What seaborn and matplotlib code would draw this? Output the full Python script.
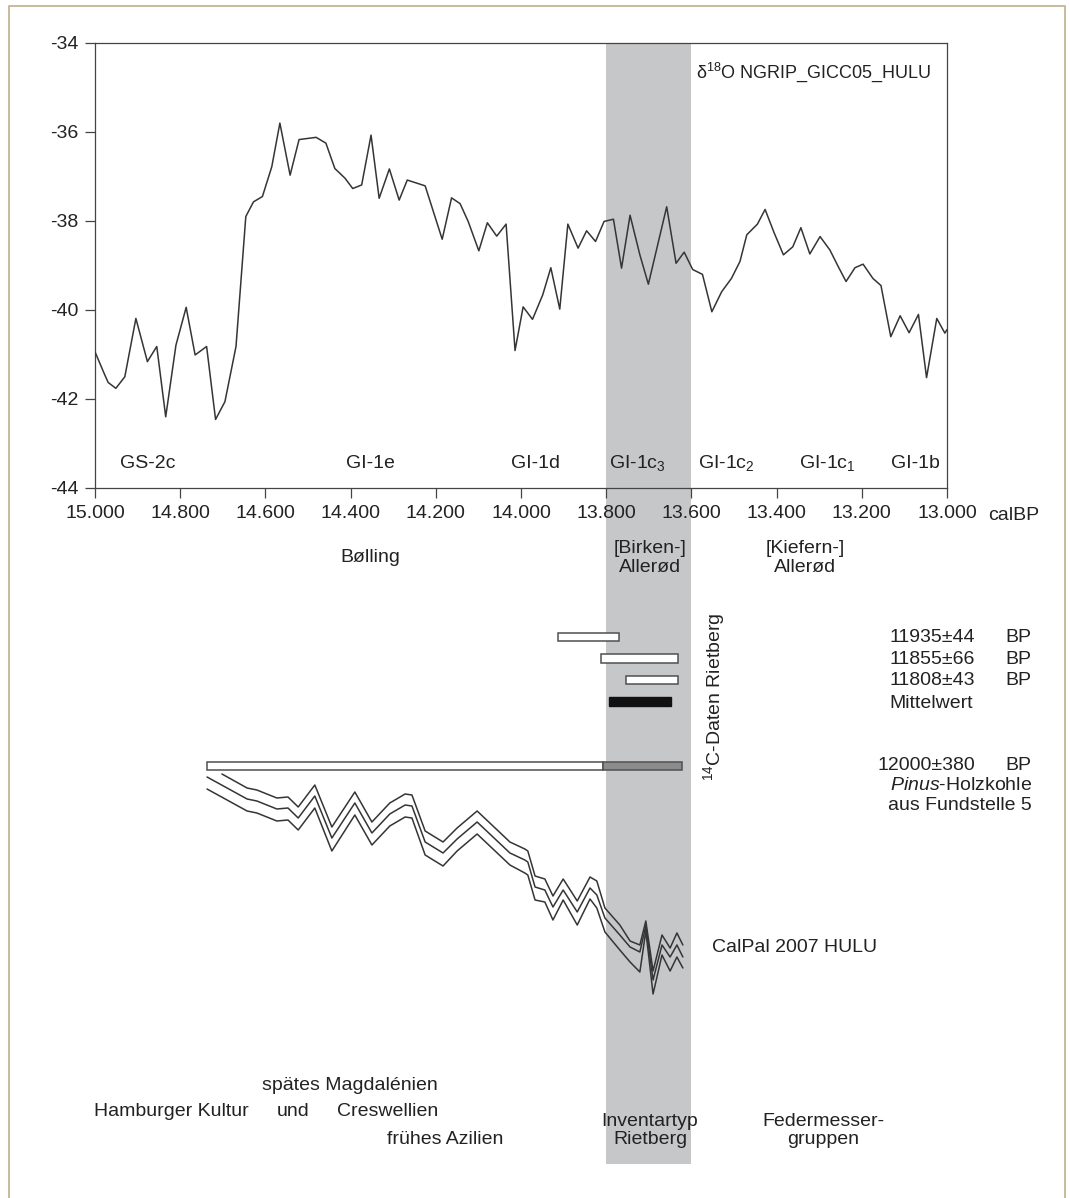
import numpy as np
import pandas as pd
import matplotlib
matplotlib.use("Agg")
import matplotlib.pyplot as plt
from matplotlib.lines import Line2D
from matplotlib.ticker import FuncFormatter
import seaborn as sns

# ---------------------------------------------------------------------------
# Data
# ---------------------------------------------------------------------------
# delta18O record, NGRIP on the GICC05 / HULU time scale (calBP, per mil)
d18o_age = [15000, 14977, 14969, 14951, 14930, 14904, 14877, 14855, 14834, 14810,
            14786, 14765, 14738, 14717, 14695, 14669, 14646, 14628, 14607, 14585,
            14566, 14542, 14521, 14481, 14458, 14437, 14413, 14395, 14374, 14352,
            14333, 14309, 14286, 14267, 14225, 14185, 14163, 14143, 14124, 14099,
            14079, 14057, 14035, 14014, 13995, 13973, 13949, 13930, 13909, 13890,
            13866, 13846, 13825, 13805, 13783, 13764, 13744, 13721, 13701, 13658,
            13636, 13617, 13597, 13574, 13552, 13529, 13506, 13486, 13470, 13445,
            13427, 13406, 13384, 13362, 13343, 13322, 13298, 13275, 13255, 13237,
            13216, 13197, 13174, 13155, 13132, 13110, 13089, 13067, 13048, 13024,
            13005, 13000]
d18o_value = [-40.94, -41.46, -41.63, -41.76, -41.50, -40.19, -41.16, -40.82, -42.40, -40.79,
              -39.94, -41.01, -40.82, -42.46, -42.06, -40.82, -37.90, -37.57, -37.45, -36.78,
              -35.80, -36.97, -36.17, -36.12, -36.25, -36.82, -37.04, -37.27, -37.19, -36.07,
              -37.49, -36.83, -37.53, -37.08, -37.21, -38.41, -37.48, -37.61, -38.01, -38.67,
              -38.04, -38.34, -38.07, -40.91, -39.93, -40.21, -39.66, -39.05, -39.98, -38.07,
              -38.61, -38.22, -38.46, -38.01, -37.96, -39.06, -37.87, -38.76, -39.42, -37.68,
              -38.95, -38.70, -39.09, -39.20, -40.04, -39.59, -39.29, -38.91, -38.31, -38.07,
              -37.74, -38.26, -38.76, -38.58, -38.15, -38.74, -38.35, -38.65, -39.03, -39.36,
              -39.05, -38.97, -39.29, -39.45, -40.60, -40.13, -40.51, -40.10, -41.52, -40.19,
              -40.52, -40.44]

# CalPal 2007 HULU calibration curve (calBP -> 14C BP), mean and 1-sigma envelope
cal_age = [14737, 14643, 14620, 14573, 14547, 14523, 14484, 14444, 14390, 14350,
           14308, 14272, 14256, 14225, 14183, 14150, 14103, 14026, 13991, 13984,
           13967, 13944, 13925, 13901, 13868, 13838, 13822, 13803, 13768, 13744,
           13721, 13707, 13690, 13669, 13650, 13634, 13620]
cal_mean = [12492, 12404, 12396, 12364, 12368, 12328, 12416, 12248, 12388, 12268,
            12344, 12380, 12376, 12232, 12188, 12244, 12312, 12188, 12160, 12152,
            12052, 12040, 11972, 12040, 11952, 12048, 12020, 11928, 11860, 11812,
            11792, 11896, 11680, 11820, 11772, 11820, 11772]
cal_upper_age = [14702] + cal_age[1:]
cal_upper = [12504, 12448, 12440, 12408, 12412, 12372, 12460, 12292, 12432, 12312,
             12388, 12424, 12420, 12276, 12232, 12288, 12356, 12232, 12204, 12196,
             12096, 12084, 12016, 12084, 11996, 12092, 12076, 11968, 11900, 11836,
             11820, 11916, 11716, 11860, 11808, 11868, 11820]
cal_lower = [12444, 12356, 12348, 12316, 12320, 12280, 12368, 12196, 12340, 12220,
             12296, 12332, 12328, 12180, 12136, 12196, 12264, 12140, 12108, 12100,
             12000, 11992, 11920, 12000, 11900, 12004, 11968, 11872, 11800, 11752,
             11712, 11876, 11624, 11780, 11716, 11772, 11728]

# Radiocarbon dates from Rietberg, calibrated ranges (calBP)
date_labels = ["11935±44", "11855±66", "11808±43"]
date_old = [13912, 13813, 13754]
date_young = [13770, 13631, 13631]
mean_range = (13793, 13647)
pinus_label = "12000±380"
pinus_range = (14737, 13623)
pinus_split = 13807

# Birch phase of the Allerød (GI-1c3)
band = (13800, 13600)

x_ticks = list(range(15000, 12999, -200))
y_ticks = [-34, -36, -38, -40, -42, -44]

stadials = ["GS-2c", "GI-1e", "GI-1d", "GI-1c$_3$", "GI-1c$_2$", "GI-1c$_1$", "GI-1b"]

# ---------------------------------------------------------------------------
# Style
# ---------------------------------------------------------------------------
sns.set_theme(style="white")
plt.rcParams["font.family"] = ["Liberation Sans", "DejaVu Sans"]
plt.rcParams["mathtext.fontset"] = "custom"
plt.rcParams["mathtext.rm"] = "Liberation Sans"
plt.rcParams["mathtext.it"] = "Liberation Sans:italic"
plt.rcParams["mathtext.default"] = "regular"
plt.rcParams["axes.unicode_minus"] = False

W, H = 1070, 1198
FS = 14
INK = "#222222"
LINE = "#353535"
EDGE = "#505050"
GREY = "#c6c7c9"

fig = plt.figure(figsize=(W / 100, H / 100), dpi=100)
fig.patch.set_facecolor("white")


def fx(px):
    return px / W


def fy(py):
    return 1 - py / H


def label(x, y, s, ha="center", va="center", **kw):
    fig.text(fx(x), fy(y), s, ha=ha, va=va, fontsize=kw.pop("fontsize", FS),
             color=kw.pop("color", INK), **kw)


AX_L, AX_R, AX_T, AX_B = 95, 947, 43, 488

# background layer: grey band and date bars, y measured in rows from the top
ax_low = fig.add_axes([fx(AX_L), 0, fx(AX_R - AX_L), (H - AX_T) / H], zorder=0)
# delta18O panel
ax = fig.add_axes([fx(AX_L), fy(AX_B), fx(AX_R - AX_L), (AX_B - AX_T) / H],
                  zorder=2, sharex=ax_low)
# calibration curve panel (14C BP on y)
ax_cal = fig.add_axes([fx(AX_L), fy(1000), fx(AX_R - AX_L), 260 / H],
                      zorder=1, sharex=ax_low)

ax.set_xlim(15000, 13000)
ax_low.set_ylim(H, AX_T)
ax_cal.set_ylim(11600, 12640)
for a in (ax_low, ax_cal):
    a.axis("off")
    a.patch.set_alpha(0)
ax.patch.set_facecolor("none")

# grey band through the whole figure
ax_low.fill_betweenx([AX_T, 1164], band[0], band[1], color=GREY, lw=0, zorder=0)

# ---------------------------------------------------------------------------
# delta18O curve
# ---------------------------------------------------------------------------
df = pd.DataFrame({"age": d18o_age, "d18o": d18o_value})
sns.lineplot(data=df, x="age", y="d18o", ax=ax, color=LINE, lw=1.1,
             estimator=None, sort=False, zorder=3)
ax.set_ylim(-44, -34)
ax.set_xticks(x_ticks)
ax.set_yticks(y_ticks)
ax.xaxis.set_major_formatter(FuncFormatter(lambda v, p: f"{v / 1000:.3f}"))
ax.yaxis.set_major_formatter(FuncFormatter(lambda v, p: f"{v:.0f}"))
ax.set_xlabel("")
ax.set_ylabel("")
ax.tick_params(axis="both", which="major", bottom=True, left=True, direction="out",
               length=7, width=0.9, color="#444444", labelsize=FS, labelcolor=INK,
               pad=5)
for sp in ax.spines.values():
    sp.set_color("#444444")
    sp.set_linewidth(0.9)

label(931, 72, "δ$^{18}$O NGRIP_GICC05_HULU", ha="right", fontsize=13)
label(988, 515, "calBP", ha="left")

for s, x in zip(stadials, [148, 370, 536, 637, 726, 827, 915]):
    label(x, 463, s)

# period names
label(370, 558, "Bølling")
label(650, 549, "[Birken-]")
label(650, 568, "Allerød")
label(805, 549, "[Kiefern-]")
label(805, 568, "Allerød")

# ---------------------------------------------------------------------------
# radiocarbon dates
# ---------------------------------------------------------------------------
rows = [637, 658.5, 680]
BH = 8.5
for r, o, yng, lab in zip(rows, date_old, date_young, date_labels):
    ax_low.barh(r, o - yng, left=yng, height=BH, color="white", edgecolor=EDGE,
                lw=1.1, zorder=2)
    label(975, r + 1, lab, ha="right")
    label(1005, r + 1, "BP", ha="left")

ax_low.barh(701.5, mean_range[0] - mean_range[1], left=mean_range[1], height=BH,
            color="#111111", edgecolor="#111111", lw=1.0, zorder=2)
label(889, 703, "Mittelwert", ha="left")

ax_low.barh(766, pinus_range[0] - pinus_split, left=pinus_split, height=BH,
            color="white", edgecolor=EDGE, lw=1.1, zorder=2)
ax_low.barh(766, pinus_split - pinus_range[1], left=pinus_range[1], height=BH,
            color="#8c8c8c", edgecolor=EDGE, lw=1.1, zorder=2)
label(975, 766, pinus_label, ha="right")
label(1005, 766, "BP", ha="left")
label(1032, 786, "$\\it{Pinus}$-Holzkohle", ha="right")
label(1032, 806, "aus Fundstelle 5", ha="right")

label(714, 697, "$^{14}$C-Daten Rietberg", rotation=90)

# ---------------------------------------------------------------------------
# calibration curve
# ---------------------------------------------------------------------------
for xs, ys in ((cal_upper_age, cal_upper), (cal_age, cal_mean), (cal_age, cal_lower)):
    cdf = pd.DataFrame({"calBP": xs, "c14": ys})
    sns.lineplot(data=cdf, x="calBP", y="c14", ax=ax_cal, color=LINE, lw=1.1,
                 estimator=None, sort=False)
ax_cal.set_xlabel("")
ax_cal.set_ylabel("")
label(712, 948, "CalPal 2007 HULU", ha="left")

# ---------------------------------------------------------------------------
# archaeological units
# ---------------------------------------------------------------------------
label(438, 1085, "spätes Magdalénien", ha="right")
label(94, 1112, "Hamburger Kultur", ha="left")
label(293, 1112, "und")
label(438, 1112, "Creswellien", ha="right")
label(503, 1140, "frühes Azilien", ha="right")
label(650, 1122, "Inventartyp")
label(650, 1140, "Rietberg")
label(823, 1122, "Federmesser-")
label(823, 1140, "gruppen")

# frame
frame = Line2D([fx(9), fx(9), fx(1065), fx(1065)], [fy(H + 5), fy(6), fy(6), fy(H + 5)],
               transform=fig.transFigure, color="#c4b594", lw=1.3)
fig.add_artist(frame)

fig.savefig("out.png", dpi=100, facecolor="white")
